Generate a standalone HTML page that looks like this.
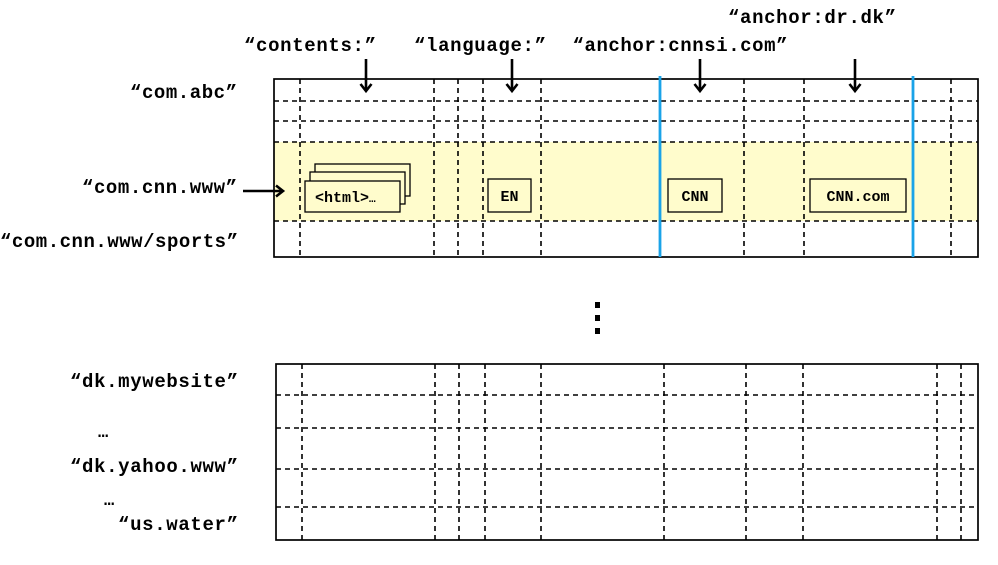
<!DOCTYPE html>
<html><head><meta charset="utf-8"><style>
html,body{margin:0;padding:0;background:#fff}
svg{display:block}
text{font-family:"Liberation Mono","Courier New",monospace;font-weight:bold;fill:#000}
</style></head><body>
<svg width="998" height="565" viewBox="0 0 998 565" xmlns="http://www.w3.org/2000/svg">
<defs><marker id="ah" markerWidth="14" markerHeight="14" refX="9" refY="7" orient="auto" markerUnits="userSpaceOnUse"><path d="M2,1.5 L9,7 L2,12.5" fill="none" stroke="#000" stroke-width="2.6"/></marker></defs>
<rect x="274" y="142" width="704" height="79" fill="#fffccc"/>
<g stroke="#000" stroke-width="1.6" stroke-dasharray="5,4" fill="none">
<line x1="274" y1="101" x2="978" y2="101"/><line x1="274" y1="121" x2="978" y2="121"/>
<line x1="274" y1="142" x2="978" y2="142"/><line x1="274" y1="221" x2="978" y2="221"/>
<line x1="300" y1="79" x2="300" y2="257"/><line x1="434" y1="79" x2="434" y2="257"/>
<line x1="458" y1="79" x2="458" y2="257"/><line x1="483" y1="79" x2="483" y2="257"/>
<line x1="541" y1="79" x2="541" y2="257"/><line x1="744" y1="79" x2="744" y2="257"/>
<line x1="804" y1="79" x2="804" y2="257"/><line x1="951" y1="79" x2="951" y2="257"/>
</g>
<rect x="274" y="79" width="704" height="178" fill="none" stroke="#000" stroke-width="1.7"/>
<line x1="660" y1="76" x2="660" y2="257" stroke="#1aa3e8" stroke-width="2.8"/>
<line x1="913" y1="76" x2="913" y2="257" stroke="#1aa3e8" stroke-width="2.8"/>
<g stroke="#000" stroke-width="1.3" fill="#fffccc">
<rect x="315" y="164" width="95" height="32"/>
<rect x="310" y="172" width="95" height="32"/>
<rect x="305" y="181" width="95" height="31"/>
<rect x="488" y="179" width="43" height="33"/>
<rect x="668" y="179" width="54" height="33"/>
<rect x="810" y="179" width="96" height="33"/>
</g>
<text x="315" y="202" font-size="15">&lt;html&gt;<tspan font-size="11">…</tspan></text>
<text x="509.5" y="201" font-size="15" text-anchor="middle">EN</text>
<text x="695" y="201" font-size="15" text-anchor="middle">CNN</text>
<text x="858" y="201" font-size="15" text-anchor="middle">CNN.com</text>
<g stroke="#000" stroke-width="2.6" marker-end="url(#ah)">
<line x1="366" y1="59" x2="366" y2="91"/><line x1="512" y1="59" x2="512" y2="91"/>
<line x1="700" y1="59" x2="700" y2="91"/><line x1="855" y1="59" x2="855" y2="91"/>
<line x1="243" y1="191" x2="283" y2="191"/>
</g>
<g font-size="19">
<text x="310" y="51" text-anchor="middle" textLength="132">“contents:”</text>
<text x="480" y="51" text-anchor="middle" textLength="132">“language:”</text>
<text x="680" y="51" text-anchor="middle" textLength="215">“anchor:cnnsi.com”</text>
<text x="812" y="23" text-anchor="middle" textLength="168">“anchor:dr.dk”</text>
<text x="237" y="98" text-anchor="end" textLength="107">“com.abc”</text>
<text x="237" y="193" text-anchor="end" textLength="155">“com.cnn.www”</text>
<text x="238" y="247" text-anchor="end" textLength="238">“com.cnn.www/sports”</text>
<text x="238" y="387" text-anchor="end" textLength="168">“dk.mywebsite”</text>
<text x="238" y="472" text-anchor="end" textLength="168">“dk.yahoo.www”</text>
<text x="238" y="530" text-anchor="end" textLength="120">“us.water”</text>
</g>
<text x="98" y="437" font-size="17">…</text>
<text x="104" y="505" font-size="17">…</text>
<rect x="595" y="302" width="5" height="6" fill="#000"/>
<rect x="595" y="315" width="5" height="6" fill="#000"/>
<rect x="595" y="328" width="5" height="6" fill="#000"/>
<g stroke="#000" stroke-width="1.6" stroke-dasharray="5,4" fill="none">
<line x1="276" y1="395" x2="978" y2="395"/><line x1="276" y1="428" x2="978" y2="428"/>
<line x1="276" y1="469" x2="978" y2="469"/><line x1="276" y1="507" x2="978" y2="507"/>
<line x1="302" y1="364" x2="302" y2="540"/><line x1="435" y1="364" x2="435" y2="540"/>
<line x1="459" y1="364" x2="459" y2="540"/><line x1="485" y1="364" x2="485" y2="540"/>
<line x1="541" y1="364" x2="541" y2="540"/><line x1="664" y1="364" x2="664" y2="540"/>
<line x1="746" y1="364" x2="746" y2="540"/><line x1="803" y1="364" x2="803" y2="540"/>
<line x1="937" y1="364" x2="937" y2="540"/><line x1="961" y1="364" x2="961" y2="540"/>
</g>
<rect x="276" y="364" width="702" height="176" fill="none" stroke="#000" stroke-width="1.7"/>
</svg>
</body></html>
